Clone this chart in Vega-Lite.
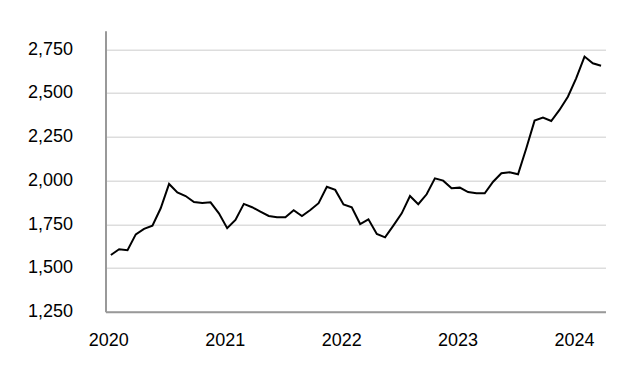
{
  "$schema": "https://vega.github.io/schema/vega-lite/v6.json",
  "width": 500,
  "height": 281,
  "autosize": {"type": "none"},
  "padding": {"left": 105.5, "top": 30.7, "right": 30, "bottom": 66},
  "background": "white",
  "config": {
    "view": {"stroke": null},
    "font": "Liberation Sans"
  },
  "data": {
    "values": [
      {"t": 2020.022, "v": 1574}, {"t": 2020.093, "v": 1607}, {"t": 2020.165, "v": 1601},
      {"t": 2020.236, "v": 1692}, {"t": 2020.307, "v": 1723}, {"t": 2020.379, "v": 1742},
      {"t": 2020.450, "v": 1841}, {"t": 2020.522, "v": 1980}, {"t": 2020.593, "v": 1932},
      {"t": 2020.664, "v": 1911}, {"t": 2020.736, "v": 1877}, {"t": 2020.807, "v": 1871},
      {"t": 2020.878, "v": 1875}, {"t": 2020.950, "v": 1812}, {"t": 2021.021, "v": 1727},
      {"t": 2021.092, "v": 1774}, {"t": 2021.164, "v": 1866}, {"t": 2021.235, "v": 1847},
      {"t": 2021.306, "v": 1822}, {"t": 2021.378, "v": 1797}, {"t": 2021.449, "v": 1790},
      {"t": 2021.521, "v": 1790}, {"t": 2021.592, "v": 1830}, {"t": 2021.663, "v": 1797},
      {"t": 2021.735, "v": 1831}, {"t": 2021.806, "v": 1870}, {"t": 2021.877, "v": 1964},
      {"t": 2021.949, "v": 1946}, {"t": 2022.020, "v": 1863}, {"t": 2022.091, "v": 1847},
      {"t": 2022.163, "v": 1751}, {"t": 2022.234, "v": 1778}, {"t": 2022.306, "v": 1694},
      {"t": 2022.377, "v": 1675}, {"t": 2022.448, "v": 1742}, {"t": 2022.520, "v": 1812},
      {"t": 2022.591, "v": 1911}, {"t": 2022.662, "v": 1864}, {"t": 2022.734, "v": 1921},
      {"t": 2022.805, "v": 2012}, {"t": 2022.876, "v": 1999}, {"t": 2022.948, "v": 1955},
      {"t": 2023.019, "v": 1959}, {"t": 2023.090, "v": 1934}, {"t": 2023.162, "v": 1927},
      {"t": 2023.233, "v": 1927}, {"t": 2023.305, "v": 1993}, {"t": 2023.376, "v": 2041},
      {"t": 2023.447, "v": 2047}, {"t": 2023.519, "v": 2035}, {"t": 2023.590, "v": 2184},
      {"t": 2023.661, "v": 2342}, {"t": 2023.733, "v": 2359}, {"t": 2023.804, "v": 2340},
      {"t": 2023.875, "v": 2403}, {"t": 2023.947, "v": 2479}, {"t": 2024.018, "v": 2584},
      {"t": 2024.090, "v": 2708}, {"t": 2024.161, "v": 2670}, {"t": 2024.232, "v": 2656}
    ]
  },
  "mark": {"type": "line", "color": "#000000", "strokeWidth": 2},
  "encoding": {
    "x": {
      "field": "t",
      "type": "quantitative",
      "scale": {"domain": [2019.976, 2024.270], "nice": false, "zero": false},
      "axis": {
        "title": null,
        "values": [2020, 2021, 2022, 2023, 2024],
        "format": "d",
        "grid": false,
        "ticks": false,
        "tickSize": 0,
        "labelFontSize": 18,
        "labelColor": "#000000",
        "labelPadding": 20,
        "labelFlush": false,
        "domainColor": "#999999",
        "domainWidth": 2
      }
    },
    "y": {
      "field": "v",
      "type": "quantitative",
      "scale": {"domain": [1250, 2856], "nice": false, "zero": false},
      "axis": {
        "title": null,
        "values": [1250, 1500, 1750, 2000, 2250, 2500, 2750],
        "format": ",.0f",
        "grid": true,
        "gridColor": "#dddddd",
        "gridWidth": 1.5,
        "ticks": false,
        "tickSize": 0,
        "labelFontSize": 18,
        "labelColor": "#000000",
        "labelPadding": 33,
        "labelFlush": false,
        "domainColor": "#999999",
        "domainWidth": 2
      }
    }
  }
}
